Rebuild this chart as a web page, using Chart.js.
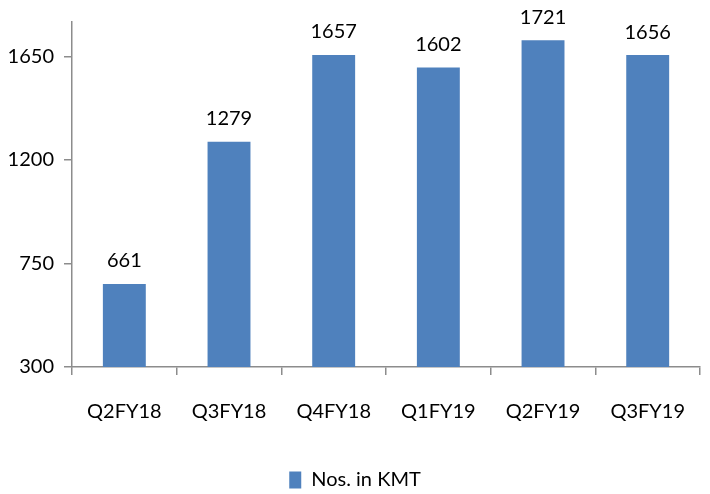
<!DOCTYPE html>
<html>
<head>
<meta charset="utf-8">
<script src="https://cdn.jsdelivr.net/npm/chart.js@4"></script>
<style>
  html, body { margin: 0; padding: 0; background: #fff; }
  #wrap { width: 710px; height: 494px; }
</style>
</head>
<body>
<div id="wrap"><canvas id="chart" width="710" height="494"></canvas></div>
<script>
var categories = ['Q2FY18', 'Q3FY18', 'Q4FY18', 'Q1FY19', 'Q2FY19', 'Q3FY19'];
var values = [661, 1279, 1657, 1602, 1721, 1656];
var yTicks = [300, 750, 1200, 1650];
var seriesName = 'Nos. in KMT';

var fontFamily = 'Lato, "Open Sans", sans-serif';

// value labels above each bar
var barLabels = {
    id: 'barLabels',
    afterDatasetsDraw: function(chart) {
        var ctx = chart.ctx;
        var meta = chart.getDatasetMeta(0);
        ctx.save();
        ctx.font = '20px ' + fontFamily;
        ctx.fillStyle = '#000';
        ctx.textAlign = 'center';
        ctx.textBaseline = 'middle';
        meta.data.forEach(function(bar, i) {
            ctx.fillText(String(values[i]), bar.x, bar.y - 23);
        });
        ctx.restore();
    }
};

document.addEventListener("DOMContentLoaded", function() {
    var ctx = document.getElementById('chart').getContext('2d');
    var chart = new Chart(ctx, {
        type: 'bar',
        data: {
            labels: categories,
            datasets: [{
                label: seriesName,
                data: values,
                backgroundColor: '#4f81bd',
                borderWidth: 0,
                categoryPercentage: 1,
                barPercentage: 0.41
            }]
        },
        options: {
            responsive: false,
            animation: false,
            layout: { padding: { top: 1, right: 0, left: 0, bottom: -6 } },
            scales: {
                x: {
                    offset: true,
                    grid: {
                        offset: true,
                        drawOnChartArea: false,
                        drawTicks: true,
                        tickLength: 8,
                        color: '#8c8c8c',
                        lineWidth: 1.5
                    },
                    border: { color: '#8c8c8c', width: 1.5 },
                    ticks: {
                        color: '#000',
                        padding: 25,
                        font: { family: fontFamily, size: 20 },
                        maxRotation: 0
                    },
                    afterFit: function(scale) { scale.height = 98; }
                },
                y: {
                    min: 300,
                    max: 1800,
                    grid: {
                        drawOnChartArea: false,
                        drawTicks: true,
                        tickLength: 8,
                        color: '#8c8c8c',
                        lineWidth: 1.5
                    },
                    border: { color: '#8c8c8c', width: 1.5 },
                    ticks: {
                        color: '#000',
                        padding: 10,
                        font: { family: fontFamily, size: 20 },
                        callback: function(v) { return String(v); }
                    },
                    afterBuildTicks: function(scale) {
                        scale.ticks = yTicks.map(function(v) { return { value: v }; });
                    },
                    afterFit: function(scale) { scale.width = 72; }
                }
            },
            plugins: {
                legend: {
                    display: true,
                    position: 'bottom',
                    labels: {
                        boxWidth: 12,
                        boxHeight: 17,
                        color: '#000',
                        padding: 5,
                        font: { family: fontFamily, size: 20 }
                    }
                },
                tooltip: { enabled: false }
            }
        },
        plugins: [barLabels]
    });
});
</script>
</body>
</html>
